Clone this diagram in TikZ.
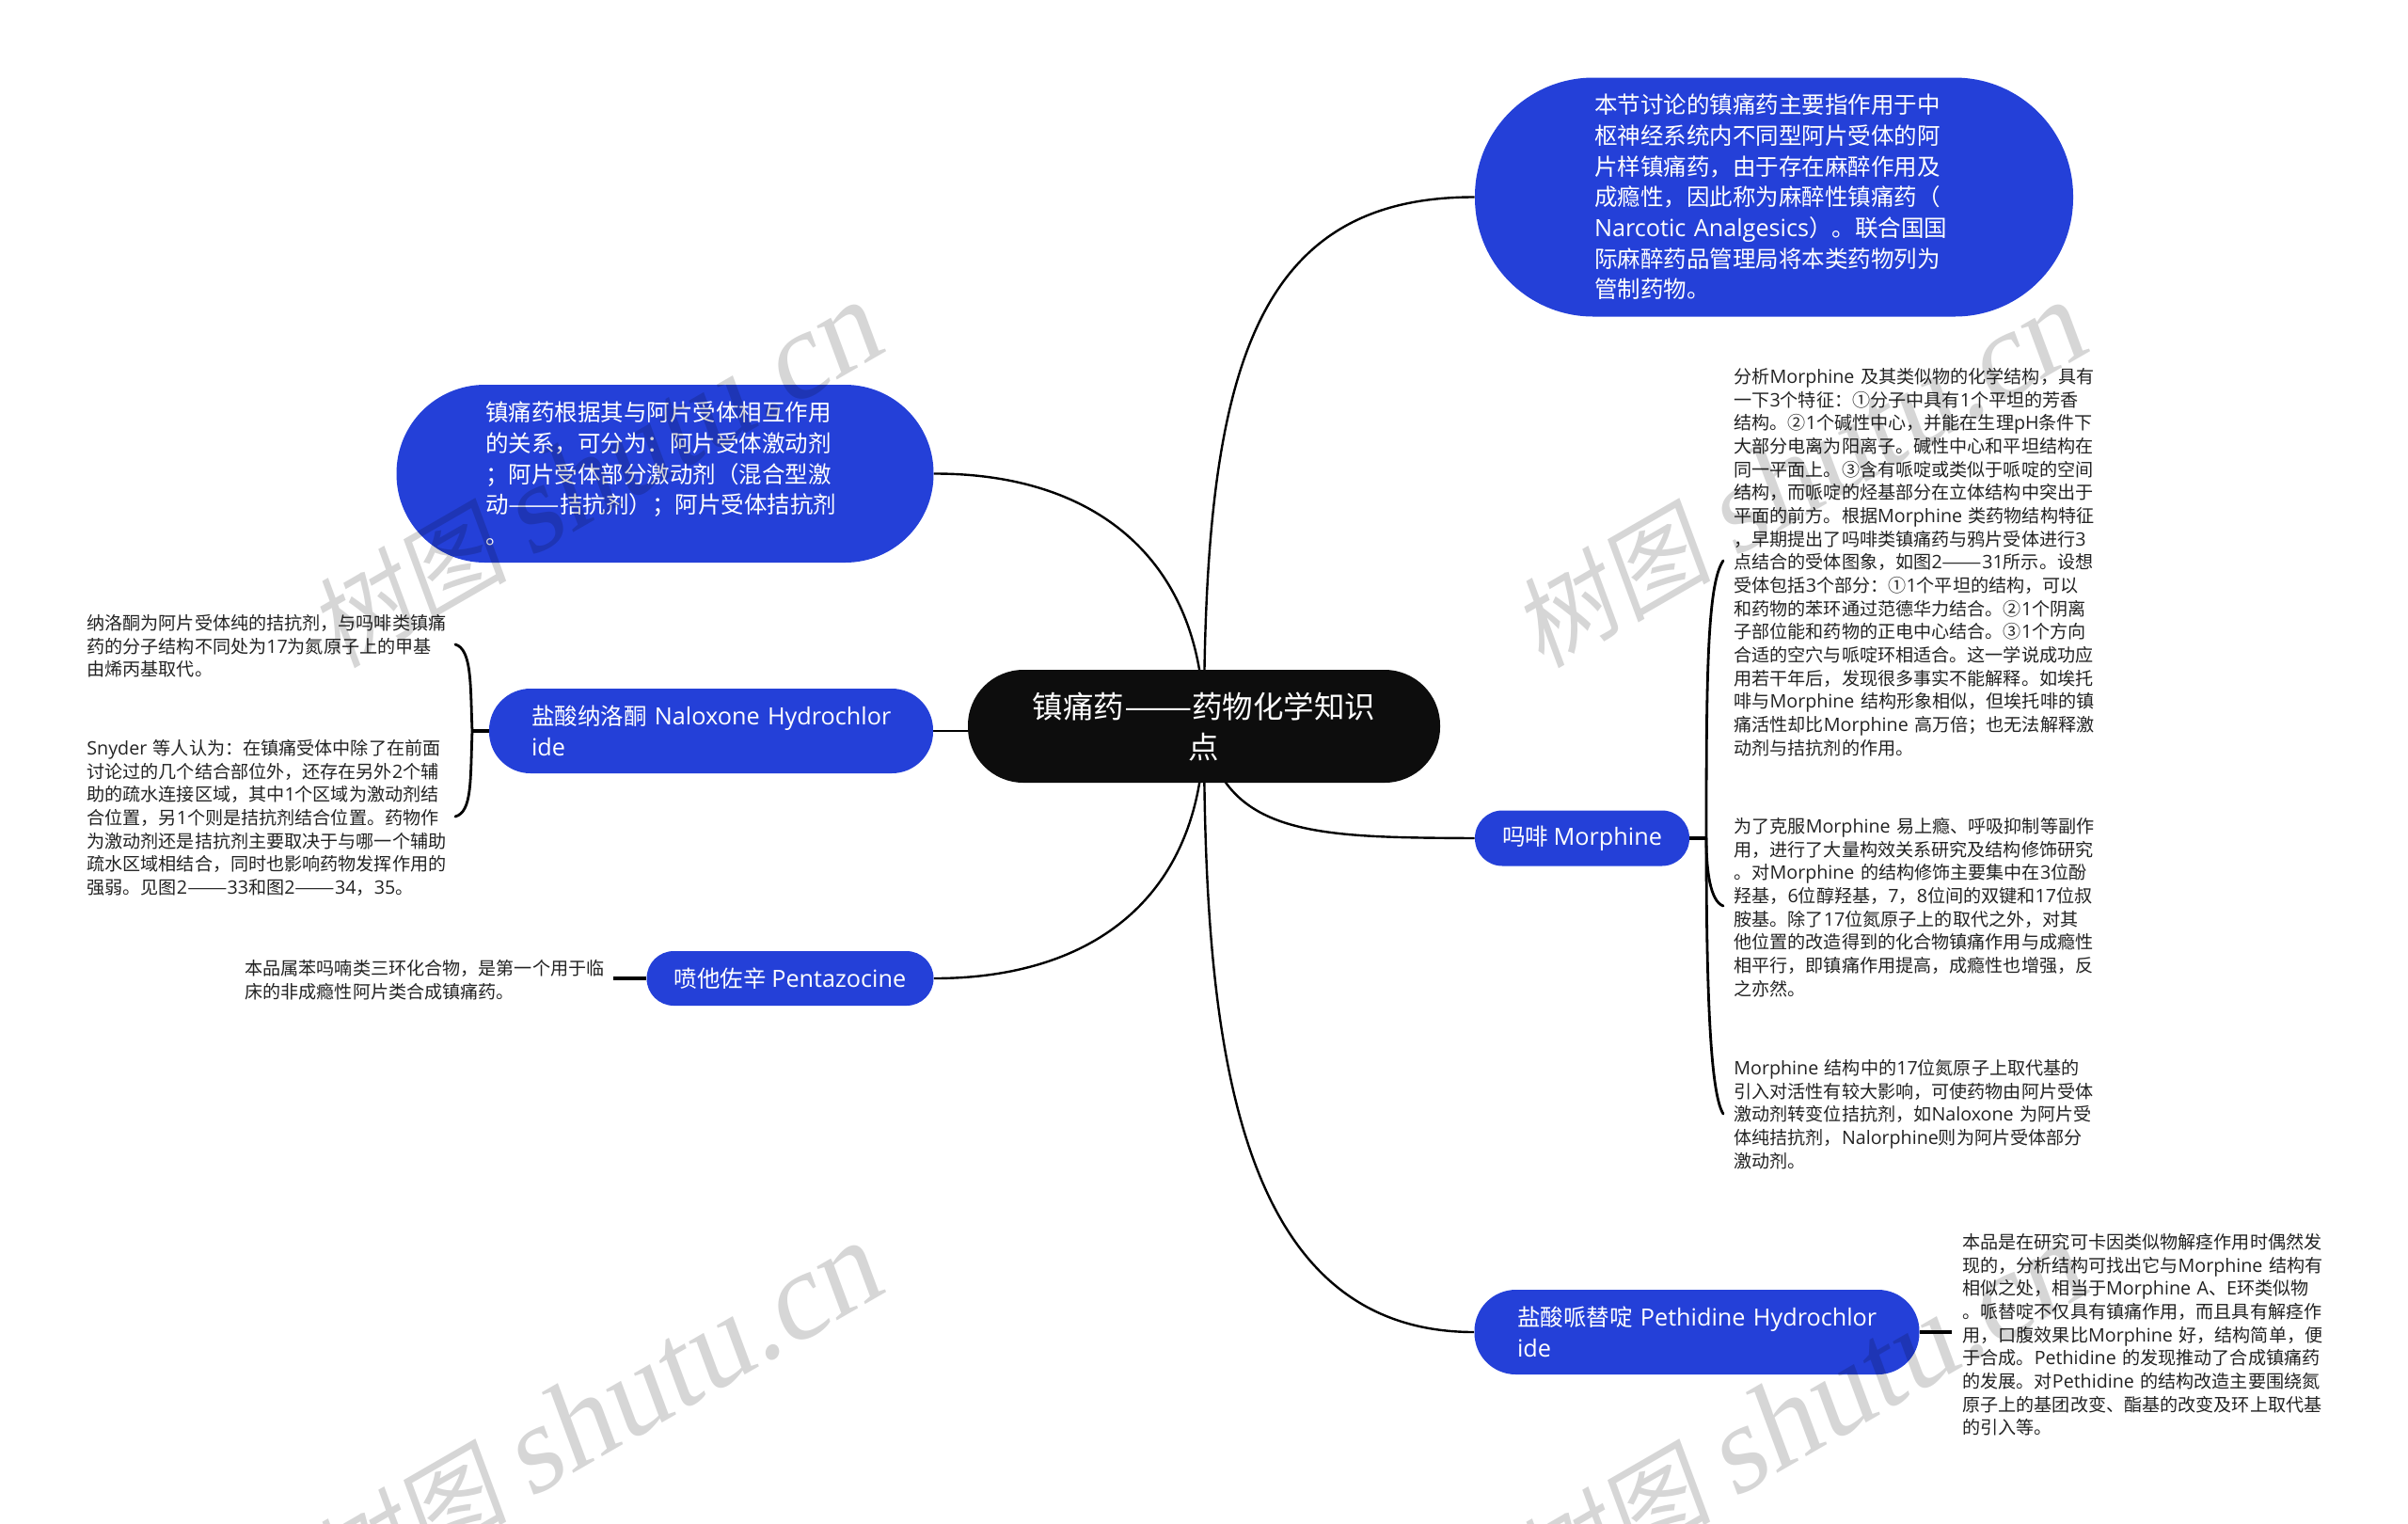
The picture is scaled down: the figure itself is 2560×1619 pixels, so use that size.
\documentclass[tikz,border=0pt]{standalone}
\usepackage{fontspec}
\usetikzlibrary{calc}
\setmainfont[Scale=1.03]{Open Sans}
\newfontfamily\cjkf{Noto Sans CJK SC}
\newfontfamily\dashf[FakeStretch=1.33]{Noto Sans CJK SC}
\newfontfamily\wmf[FakeSlant=0.17]{Liberation Serif}
\newfontfamily\wmc[FakeSlant=0.17]{Noto Sans CJK SC}
\newcount\cc
\newcommand\setcls[3]{\cc=#1\relax\loop\XeTeXcharclass\cc=#3\relax\ifnum\cc<#2\advance\cc by 1\repeat}
\setcls{"2E80}{"9FFF}{1}
\setcls{"FF00}{"FFEF}{1}
\setcls{"2460}{"2473}{1}
\setcls{"2014}{"2014}{2}
\XeTeXinterchartokenstate=1
\XeTeXinterchartoks 0 1 = {\cjkf}
\XeTeXinterchartoks 4095 1 = {\cjkf}
\XeTeXinterchartoks 2 1 = {\cjkf}
\XeTeXinterchartoks 1 0 = {\normalfont}
\XeTeXinterchartoks 2 0 = {\normalfont}
\XeTeXinterchartoks 4095 0 = {\normalfont}
\XeTeXinterchartoks 0 2 = {\dashf}
\XeTeXinterchartoks 1 2 = {\dashf}
\XeTeXinterchartoks 4095 2 = {\dashf}
\newcommand\bl[1]{\makebox[191pt][l]{#1}}
\newcommand\lf[1]{\makebox[192pt][l]{#1}}
\definecolor{pillblue}{HTML}{2440D8}
\definecolor{rootblack}{HTML}{0D0D0D}
\definecolor{leaftext}{HTML}{222222}
\pgfdeclarelayer{bg}
\pgfsetlayers{bg,main}
\tikzset{
  pillbase/.style={fill=pillblue,text=white,inner sep=0pt,font=\fontsize{12.25}{16.35}\selectfont},
  pillwrap/.style={pillbase,text width=191pt,align=left},
  pillone/.style={pillbase,align=center},
  rootpill/.style={fill=rootblack,text=white,inner sep=0pt,align=center,text width=230pt,
    font=\fontsize{16.25}{21.5}\selectfont,minimum width=251pt,minimum height=60pt,rounded corners=29.5pt},
  leaf/.style={anchor=north west,inner sep=0pt,text=leaftext,text width=200pt,align=left,
    font=\fontsize{9.55}{12.33}\selectfont},
  branch/.style={line width=1.2pt,black},
  stub/.style={line width=1.6pt,black},
  brace/.style={line width=1.4pt,black,line cap=round},
  wmark/.style={rotate=30,anchor=base east,inner sep=0pt,black,text opacity=0.16}
}
\begin{document}
\begin{tikzpicture}[x=0.5pt,y=-0.5pt]
\useasboundingbox (0,0) rectangle (2560,1619);
\node[rootpill] (root) at (1280,772) {镇痛药——药物化学知识\\点};
\node[pillwrap,minimum width=318pt,minimum height=127pt,rounded corners=63pt] (intro) at (1886,209.5)
 {\bl{本节讨论的镇痛药主要指作用于中}\\\bl{枢神经系统内不同型阿片受体的阿}\\\bl{片样镇痛药，由于存在麻醉作用及}\\\bl{成瘾性，因此称为麻醉性镇痛药（}\\\bl{Narcotic Analgesics）。联合国国}\\\bl{际麻醉药品管理局将本类药物列为}\\\bl{管制药物。}};
\node[pillwrap,minimum width=285.5pt,minimum height=94.5pt,rounded corners=47pt] (rel) at (707,503.5)
 {\bl{镇痛药根据其与阿片受体相互作用}\\\bl{的关系，可分为：阿片受体激动剂}\\\bl{；阿片受体部分激动剂（混合型激}\\\bl{动——拮抗剂）；阿片受体拮抗剂}\\\bl{。}};
\node[pillwrap,minimum width=236pt,minimum height=45pt,rounded corners=22pt] (nal) at (756,777)
 {\bl{盐酸纳洛酮 Naloxone Hydrochlor}\\\bl{ide}};
\node[pillone,minimum width=152.5pt,minimum height=29pt,rounded corners=14.4pt] (pen) at (840,1040)
 {喷他佐辛 Pentazocine};
\node[pillone,minimum width=114pt,minimum height=29.5pt,rounded corners=14.6pt] (mor) at (1682,891)
 {吗啡 Morphine};
\node[pillwrap,minimum width=236.5pt,minimum height=45pt,rounded corners=22pt] (pet) at (1804,1416)
 {\bl{盐酸哌替啶 Pethidine Hydrochlor}\\\bl{ide}};
\node[leaf] (m1) at (1843,391) {分析Morphine 及其类似物的化学结构，具有\\一下3个特征：①分子中具有1个平坦的芳香\\结构。②1个碱性中心，并能在生理pH条件下\\大部分电离为阳离子。碱性中心和平坦结构在\\同一平面上。③含有哌啶或类似于哌啶的空间\\结构，而哌啶的烃基部分在立体结构中突出于\\平面的前方。根据Morphine 类药物结构特征\\，早期提出了吗啡类镇痛药与鸦片受体进行3\\点结合的受体图象，如图2——31所示。设想\\受体包括3个部分：①1个平坦的结构，可以\\和药物的苯环通过范德华力结合。②1个阴离\\子部位能和药物的正电中心结合。③1个方向\\合适的空穴与哌啶环相适合。这一学说成功应\\用若干年后，发现很多事实不能解释。如埃托\\啡与Morphine 结构形象相似，但埃托啡的镇\\痛活性却比Morphine 高万倍；也无法解释激\\动剂与拮抗剂的作用。};
\node[leaf] (m2) at (1843,869) {为了克服Morphine 易上瘾、呼吸抑制等副作\\用，进行了大量构效关系研究及结构修饰研究\\。对Morphine 的结构修饰主要集中在3位酚\\羟基，6位醇羟基，7，8位间的双键和17位叔\\胺基。除了17位氮原子上的取代之外，对其\\他位置的改造得到的化合物镇痛作用与成瘾性\\相平行，即镇痛作用提高，成瘾性也增强，反\\之亦然。};
\node[leaf] (m3) at (1843,1126) {Morphine 结构中的17位氮原子上取代基的\\引入对活性有较大影响，可使药物由阿片受体\\激动剂转变位拮抗剂，如Naloxone 为阿片受\\体纯拮抗剂，Nalorphine则为阿片受体部分\\激动剂。};
\node[leaf] (p1) at (2086,1311) {本品是在研究可卡因类似物解痉作用时偶然发\\现的，分析结构可找出它与Morphine 结构有\\相似之处，相当于Morphine A、E环类似物\\。哌替啶不仅具有镇痛作用，而且具有解痉作\\用，口腹效果比Morphine 好，结构简单，便\\于合成。Pethidine 的发现推动了合成镇痛药\\的发展。对Pethidine 的结构改造主要围绕氮\\原子上的基团改变、酯基的改变及环上取代基\\的引入等。};
\node[leaf] (n1) at (92,653) {纳洛酮为阿片受体纯的拮抗剂，与吗啡类镇痛\\药的分子结构不同处为17为氮原子上的甲基\\由烯丙基取代。};
\node[leaf] (n2) at (92,786) {Snyder 等人认为：在镇痛受体中除了在前面\\讨论过的几个结合部位外，还存在另外2个辅\\助的疏水连接区域，其中1个区域为激动剂结\\合位置，另1个则是拮抗剂结合位置。药物作\\为激动剂还是拮抗剂主要取决于与哪一个辅助\\疏水区域相结合，同时也影响药物发挥作用的\\强弱。见图2——33和图2——34，35。};
\node[leaf] (e1) at (260,1020) {本品属苯吗喃类三环化合物，是第一个用于临\\床的非成瘾性阿片类合成镇痛药。};
\coordinate (jm) at (1814,891);
\coordinate (jm1) at (1832,596);
\coordinate (jm2) at (1832,963);
\coordinate (jm3) at (1832,1184);
\coordinate (jn) at (502,777);
\coordinate (jn1) at (484,685);
\coordinate (jn2) at (484,868);
\coordinate (je) at (652,1040);
\coordinate (jp) at (2075,1416);
\begin{pgfonlayer}{bg}
\draw[branch] (root.center) .. controls (1280,400) and (1330,209) .. (intro.west);
\draw[branch] (rel.east) .. controls (1170,503) and (1280,600) .. (root.center);
\draw[branch] (nal.east) -- (root.west |- nal.east);
\draw[branch] (pen.east) .. controls (1170,1040) and (1280,946) .. (root.center);
\draw[branch] (root.center) .. controls (1300,890) and (1400,890) .. (mor.west);
\draw[branch] (root.center) .. controls (1280,1100) and (1310,1416) .. (pet.west);
\draw[stub] (mor.east) -- (jm);
\draw[brace] (jm) .. controls (1814,720) and (1815,620) .. (jm1);
\draw[brace] (jm) .. controls (1814,925) and (1818,958) .. (jm2);
\draw[brace] (jm) .. controls (1814,1080) and (1820,1165) .. (jm3);
\draw[stub] (nal.west) -- (jn);
\draw[brace] (jn) .. controls (500,730) and (502,690) .. (jn1);
\draw[brace] (jn) .. controls (500,830) and (502,863) .. (jn2);
\draw[stub] (pen.west) -- (je);
\draw[stub] (pet.east) -- (jp);
\end{pgfonlayer}
\foreach \dx/\dy/\nm in {0/0/a,1280/0/b,0/-1000/c,1280/-1000/d}{
  \node[wmark] (wm\nm) at ({945+\dx},{1373+\dy}) {{\fontsize{53}{53}\wmc\XeTeXinterchartokenstate=0 树图 }{\fontsize{65.5}{65.5}\wmf\XeTeXinterchartokenstate=0 shutu.cn}};
}
\end{tikzpicture}
\end{document}
